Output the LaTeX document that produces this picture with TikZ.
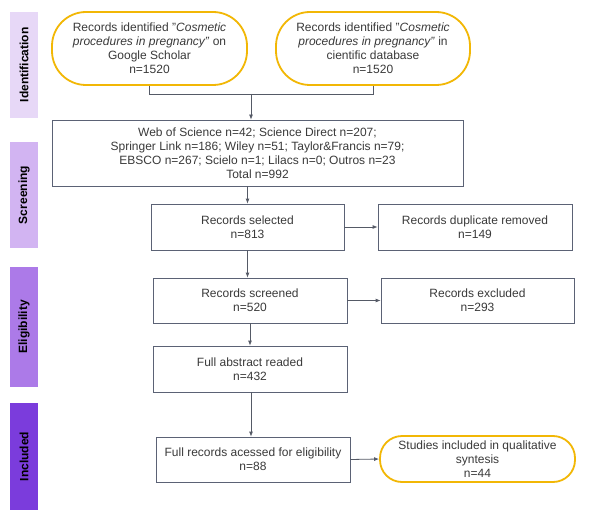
\documentclass[tikz,border=0pt]{standalone}
\usepackage{fontspec}
\setmainfont{Liberation Sans}
\usetikzlibrary{arrows.meta}
\definecolor{boxline}{HTML}{5B6275}
\definecolor{gold}{HTML}{F2B705}
\definecolor{txt}{HTML}{3A3A3A}
\definecolor{conn}{HTML}{555A66}
\definecolor{barA}{HTML}{E7D8F7}
\definecolor{barB}{HTML}{D2B4F2}
\definecolor{barC}{HTML}{AC7AE8}
\definecolor{barD}{HTML}{7B3CDC}
\begin{document}
\begin{tikzpicture}[x=1pt,y=-1pt,
  every node/.style={font=\fontsize{12}{14}\selectfont, text=txt, align=center, inner sep=0pt},
  boxnode/.style={draw=boxline, line width=0.8pt, fill=white},
  ovalnode/.style={draw=gold, line width=1.8pt, fill=white},
  barnode/.style={minimum width=28pt},
  bartext/.style={rotate=90, font=\fontsize{12}{14}\selectfont\bfseries, text=black},
  arr/.style={draw=conn, line width=0.8pt, -{Latex[length=5pt,width=4pt]}},
  plainline/.style={draw=conn, line width=0.8pt}]
\useasboundingbox (0,0) rectangle (589,516);
\fill[white] (0,0) rectangle (589,516);

% phase bars
\node[barnode, fill=barA, minimum height=106pt] (pA) at (24,65) {};
\node[bartext] (tA) at (pA.center) {Identification};
\node[barnode, fill=barB, minimum height=106pt] (pB) at (24,195) {};
\node[bartext] (tB) at (pB.center) {Screening};
\node[barnode, fill=barC, minimum height=120pt] (pC) at (24,327) {};
\node[bartext] (tC) at (pC.center) {Eligibility};
\node[barnode, fill=barD, minimum height=107pt] (pD) at (24,456.5) {};
\node[bartext] (tD) at (pD.center) {Included};

% top ovals
\node[ovalnode, rounded corners=34pt, minimum width=195pt, minimum height=73pt] (lo) at (149.5,48.5)
 {Records identified "\textit{Cosmetic}\\\textit{procedures in pregnancy"} on\\Google Scholar\\n=1520};
\node[ovalnode, rounded corners=34pt, minimum width=194pt, minimum height=73pt] (ro) at (373,48.5)
 {Records identified "\textit{Cosmetic}\\\textit{procedures in pregnancy"} in\\cientific database\\n=1520};

% boxes
\node[boxnode, minimum width=411pt, minimum height=66pt] (big) at (257.5,153)
 {Web of Science n=42; Science Direct n=207;\\Springer Link n=186; Wiley n=51; Taylor\&Francis n=79;\\EBSCO n=267; Scielo n=1; Lilacs n=0; Outros n=23\\Total n=992};
\node[boxnode, minimum width=193pt, minimum height=46pt] (sel) at (247.5,227) {Records selected\\n=813};
\node[boxnode, minimum width=194pt, minimum height=46pt] (dup) at (475,227) {Records duplicate removed\\n=149};
\node[boxnode, minimum width=194pt, minimum height=45pt] (scr) at (250,300.5) {Records screened\\n=520};
\node[boxnode, minimum width=193pt, minimum height=45pt] (exc) at (477.5,300.5) {Records excluded\\n=293};
\node[boxnode, minimum width=194pt, minimum height=46pt] (abs) at (250,369) {Full abstract readed\\n=432};
\node[boxnode, minimum width=194pt, minimum height=45pt] (full) at (253,459.5) {Full records acessed for eligibility\\n=88};
\node[ovalnode, rounded corners=22pt, minimum width=195pt, minimum height=46pt] (stu) at (477.5,459)
 {Studies included in qualitative\\syntesis\\n=44};

% connectors
\coordinate (br) at (251,94);
\draw[plainline] (lo.south) -- (lo.south |- br) -| (ro.south);
\draw[arr] (br) -- (br |- big.north);
\draw[arr] (sel.north |- big.south) -- (sel.north);
\draw[arr] (sel.south) -- (sel.south |- scr.north);
\draw[arr] (sel.east) -- (dup.west);
\draw[arr] (scr.east) -- (exc.west);
\draw[arr] (scr.south) -- (scr.south |- abs.north);
\draw[arr] ([xshift=1pt]abs.south) -- ([xshift=1pt]abs.south |- full.north);
\draw[arr] (full.east) -- (stu.west);
\end{tikzpicture}
\end{document}
